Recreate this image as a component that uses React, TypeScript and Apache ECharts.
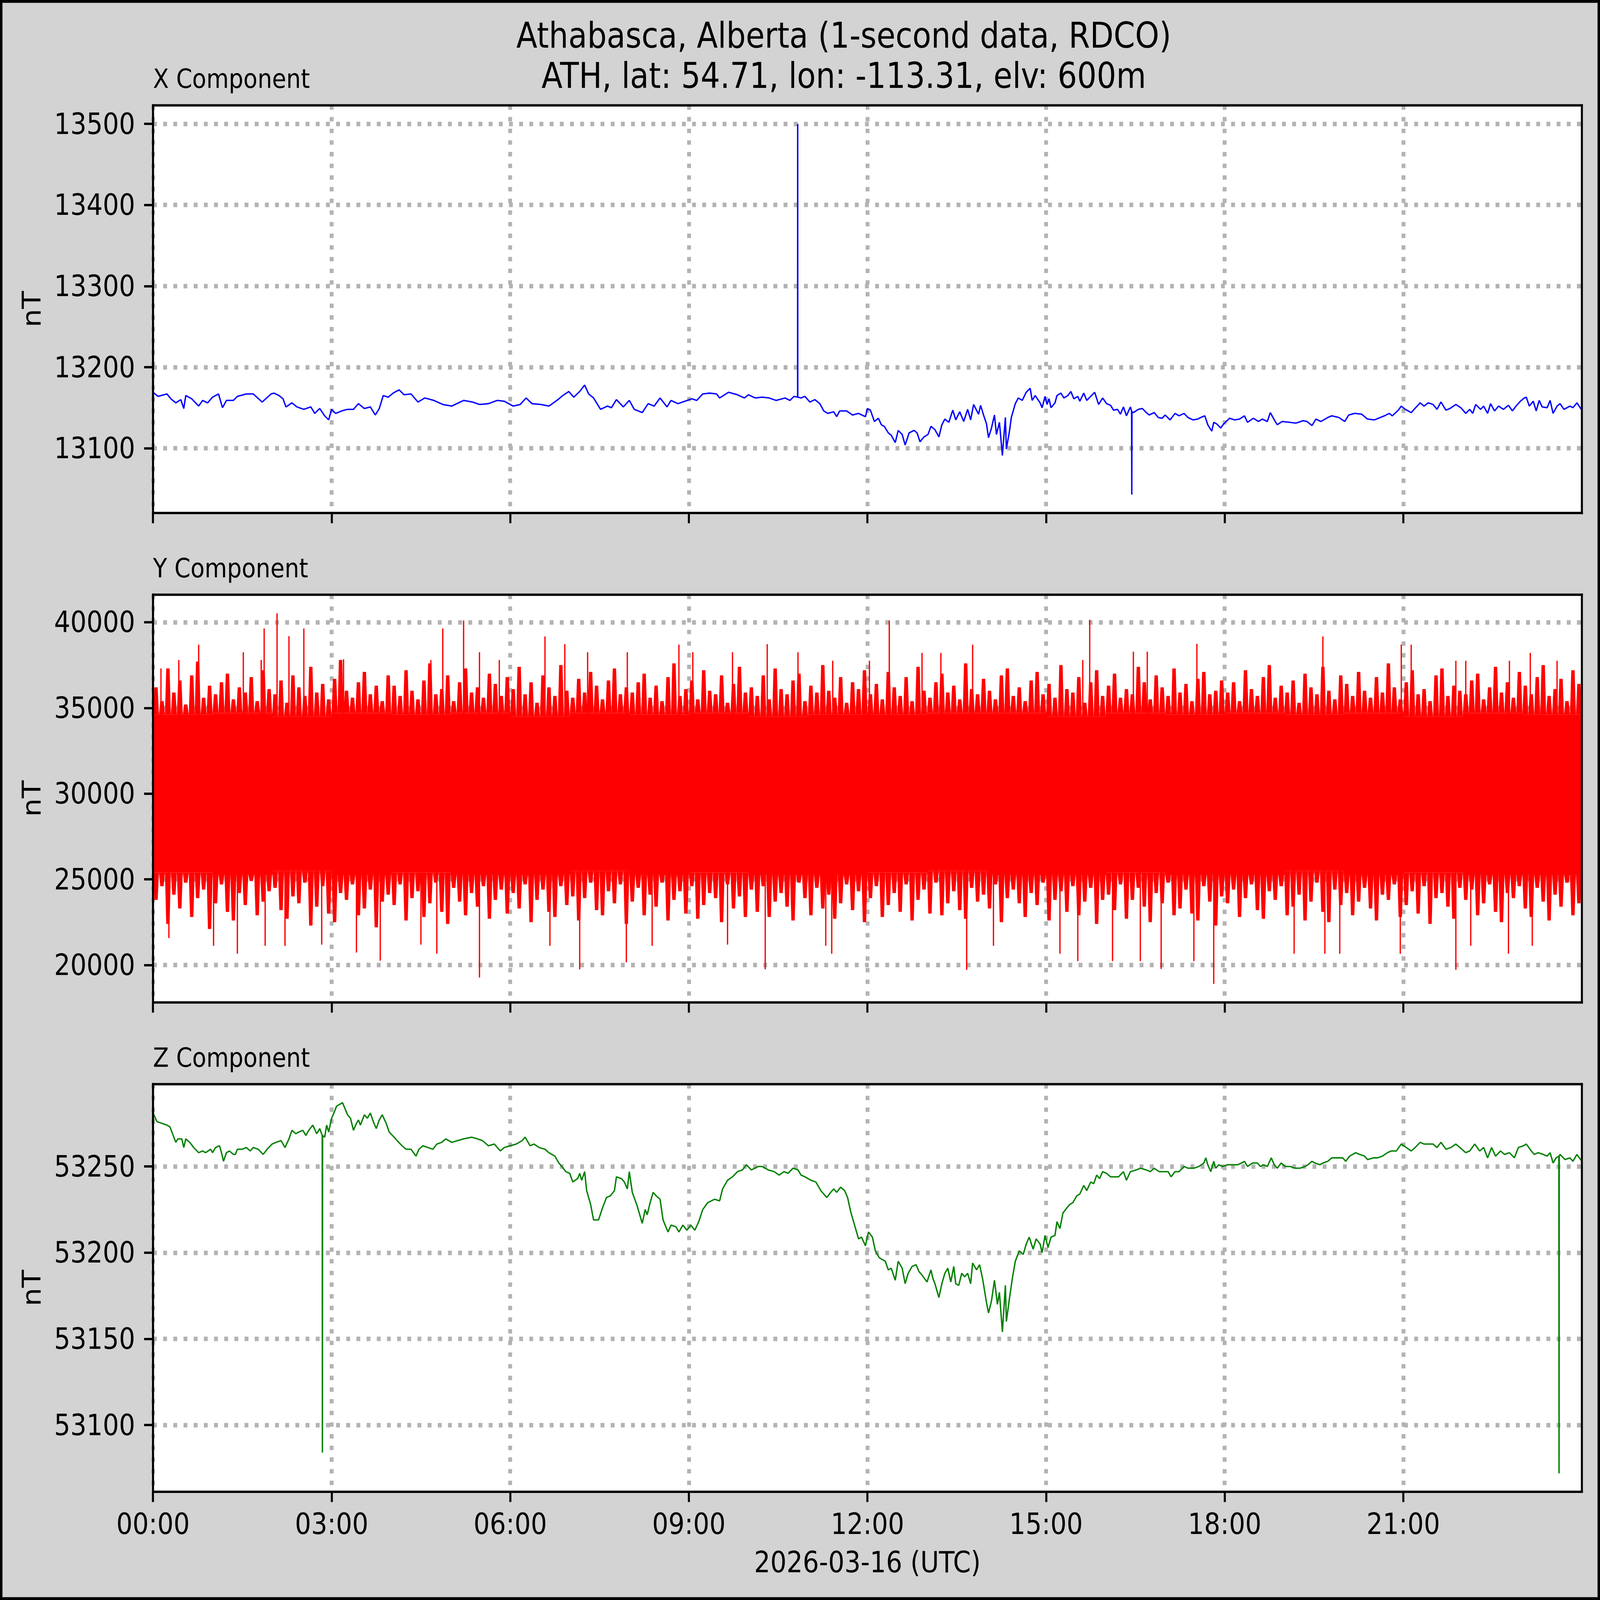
import React, { useEffect, useRef } from "react";
import * as echarts from "echarts";

// ---------- layout in reference pixels (5207 x 4541); mapped onto the actual viewport ----------
const W = 5207;
const H = 4541;
const PLOT_LEFT = 498;
const PLOT_RIGHT = 5148;
const PANEL_TOPS = [299, 1688, 3077];
const PANEL_H = 1157;
const FONT = '"DejaVu Sans", "Liberation Sans", sans-serif';
const GRID_COLOR = "#b3b3b3";

// ---------- ticks ----------
const timeTicks = [0, 180, 360, 540, 720, 900, 1080, 1260];
const timeTickLabels = ["00:00", "03:00", "06:00", "09:00", "12:00", "15:00", "18:00", "21:00"];
const xTicks = [13100, 13200, 13300, 13400, 13500];
const yTicks = [20000, 25000, 30000, 35000, 40000];
const zTicks = [53100, 53150, 53200, 53250];
const panelTitles = ["X Component", "Y Component", "Z Component"];

// ---------- data: [minute of day, nT] ----------
const xComponent = [
  [0,13169],[5,13164],[14,13167],[18,13161],[23,13156],[28,13160],[31,13149],[33,13165],[39,13161],[46,13152],
  [50,13159],[55,13156],[60,13163],[66,13167],[70,13150],[74,13159],[81,13159],[85,13164],[94,13167],[101,13167],
  [110,13157],[119,13167],[122,13168],[127,13165],[131,13161],[134,13151],[140,13156],[145,13151],[152,13148],[159,13151],
  [163,13143],[168,13149],[173,13140],[177,13135],[180,13148],[184,13143],[190,13146],[196,13148],[202,13148],[207,13155],
  [213,13149],[219,13151],[224,13141],[228,13149],[232,13165],[237,13163],[242,13168],[248,13172],[253,13166],[260,13167],
  [267,13157],[274,13162],[283,13159],[292,13154],[301,13152],[313,13159],[322,13157],[329,13154],[338,13155],[347,13159],
  [354,13158],[363,13152],[370,13154],[376,13162],[382,13155],[391,13154],[399,13152],[407,13159],[413,13165],[419,13170],
  [424,13163],[430,13170],[435,13178],[439,13167],[444,13162],[451,13148],[458,13152],[462,13150],[467,13160],[474,13151],
  [480,13159],[485,13148],[493,13144],[499,13155],[505,13152],[511,13162],[518,13151],[522,13159],[529,13155],[536,13158],
  [543,13161],[548,13159],[554,13167],[561,13168],[568,13167],[571,13162],[580,13169],[589,13166],[596,13162],[600,13166],
  [607,13162],[614,13163],[621,13162],[628,13159],[637,13162],[642,13159],[646,13164],[649.6,13163],[649.7,13500],[649.8,13163],
  [653,13162],[657,13164],[662,13157],[667,13160],[672,13155],[676,13146],[680,13143],[686,13145],[689,13139],[692,13146],
  [699,13146],[705,13141],[711,13143],[718,13139],[720,13149],[723,13147],[727,13133],[731,13137],[734,13129],[737,13127],
  [741,13119],[744,13116],[748,13107],[751,13122],[755,13117],[758,13104],[762,13119],[767,13122],[770,13119],[773,13108],
  [777,13114],[781,13117],[784,13127],[788,13123],[792,13114],[795,13129],[798,13136],[802,13132],[806,13147],[809,13135],
  [813,13145],[817,13133],[821,13148],[824,13135],[827,13154],[832,13142],[834,13153],[837,13141],[840,13130],[842,13113],
  [845,13125],[848,13141],[850,13117],[853,13132],[856,13091],[859,13138],[860,13099],[863,13120],[865,13138],[869,13155],
  [872,13162],[876,13159],[880,13169],[884,13174],[886,13159],[889,13165],[894,13156],[896,13150],[899,13164],[901,13154],
  [903,13161],[905,13150],[909,13156],[911,13165],[915,13168],[918,13162],[922,13165],[925,13170],[928,13161],[932,13164],
  [934,13158],[938,13168],[941,13159],[945,13164],[949,13169],[953,13154],[957,13162],[961,13155],[965,13153],[968,13147],
  [972,13148],[975,13142],[978,13151],[981,13140],[985,13151],[986.2,13146],[986.4,13043],[986.6,13145],[988,13144],[993,13148],
  [997,13149],[1001,13144],[1004,13141],[1009,13144],[1013,13138],[1017,13137],[1020,13141],[1025,13135],[1030,13143],[1034,13140],
  [1039,13143],[1043,13138],[1048,13135],[1053,13136],[1056,13138],[1060,13140],[1063,13129],[1067,13121],[1069,13132],[1072,13130],
  [1076,13125],[1079,13130],[1085,13137],[1090,13135],[1095,13136],[1100,13140],[1103,13132],[1109,13137],[1114,13133],[1118,13136],
  [1123,13133],[1126,13144],[1130,13135],[1133,13129],[1138,13133],[1145,13132],[1152,13131],[1159,13134],[1163,13133],[1168,13128],
  [1172,13136],[1177,13133],[1184,13138],[1188,13140],[1195,13138],[1201,13133],[1205,13141],[1211,13143],[1218,13142],[1224,13136],
  [1231,13135],[1237,13138],[1241,13140],[1246,13143],[1249,13140],[1255,13147],[1258,13152],[1262,13148],[1268,13144],[1271,13148],
  [1277,13156],[1281,13152],[1285,13156],[1290,13154],[1294,13148],[1298,13157],[1303,13147],[1307,13149],[1313,13154],[1318,13150],
  [1323,13143],[1327,13148],[1330,13143],[1333,13154],[1338,13148],[1341,13152],[1345,13143],[1348,13155],[1352,13146],[1356,13152],
  [1361,13148],[1366,13153],[1370,13146],[1373,13151],[1378,13158],[1382,13162],[1384,13163],[1387,13152],[1391,13158],[1394,13146],
  [1397,13159],[1400,13151],[1405,13150],[1408,13159],[1411,13143],[1415,13152],[1418,13155],[1422,13148],[1428,13152],[1431,13150],
  [1435,13156],[1440,13147]
];

const zComponent = [
  [0,53281],[4,53276],[9,53275],[14,53274],[17,53273],[21,53267],[23,53264],[25,53266],[29,53266],[31,53261],
  [33,53266],[37,53264],[41,53261],[46,53258],[50,53259],[53,53258],[58,53260],[60,53258],[63,53261],[67,53262],
  [69,53258],[71,53253],[74,53258],[77,53259],[81,53257],[83,53257],[85,53260],[90,53260],[94,53261],[98,53259],
  [101,53261],[106,53260],[111,53257],[115,53260],[120,53263],[124,53264],[129,53265],[133,53261],[137,53266],[140,53271],
  [144,53269],[147,53270],[151,53271],[154,53268],[157,53271],[161,53274],[165,53269],[168,53272],[170.5,53268],[170.7,53084],
  [170.9,53268],[173,53267],[175,53274],[177,53270],[180,53278],[183,53282],[185,53285],[191,53287],[196,53280],[199,53278],
  [202,53271],[205,53275],[207,53277],[209,53274],[213,53280],[216,53278],[219,53281],[222,53276],[225,53272],[228,53277],
  [231,53280],[235,53275],[238,53270],[243,53267],[246,53265],[251,53262],[255,53260],[260,53260],[265,53256],[268,53260],
  [272,53262],[277,53261],[282,53260],[286,53263],[291,53264],[295,53266],[301,53264],[307,53265],[313,53266],[321,53267],
  [327,53266],[332,53265],[338,53262],[344,53263],[350,53259],[354,53261],[360,53262],[366,53263],[372,53265],[375,53267],
  [380,53262],[384,53263],[389,53261],[395,53260],[399,53258],[405,53256],[409,53252],[412,53250],[416,53247],[420,53246],
  [423,53241],[428,53243],[430,53246],[432,53242],[435,53247],[437,53236],[441,53228],[444,53219],[449,53219],[453,53226],
  [457,53232],[461,53233],[465,53236],[467,53244],[472,53243],[475,53241],[478,53237],[480,53247],[483,53235],[488,53227],
  [493,53217],[496,53225],[498,53222],[501,53229],[504,53235],[507,53233],[511,53231],[514,53219],[519,53212],[522,53216],
  [527,53215],[530,53212],[534,53216],[538,53213],[542,53216],[546,53213],[550,53218],[554,53225],[559,53229],[566,53231],
  [571,53230],[574,53237],[579,53242],[584,53244],[589,53247],[594,53248],[598,53251],[603,53248],[610,53250],[614,53250],
  [620,53248],[626,53247],[631,53245],[636,53247],[640,53246],[645,53249],[650,53248],[653,53245],[657,53244],[663,53242],
  [668,53241],[673,53236],[679,53232],[683,53235],[686,53237],[689,53235],[693,53238],[697,53236],[700,53232],[703,53224],
  [706,53218],[711,53208],[714,53209],[718,53204],[721,53212],[725,53209],[728,53201],[732,53197],[735,53196],[738,53195],
  [741,53190],[744,53191],[748,53184],[751,53195],[755,53191],[758,53182],[761,53188],[765,53192],[769,53193],[772,53189],
  [775,53187],[780,53183],[784,53190],[786,53185],[788,53182],[792,53174],[795,53182],[798,53188],[801,53191],[804,53183],
  [807,53192],[809,53182],[812,53181],[815,53188],[818,53186],[821,53188],[824,53182],[826,53194],[830,53190],[833,53193],
  [836,53185],[840,53171],[842,53165],[845,53172],[848,53184],[851,53170],[853,53177],[856,53154],[859,53181],[860,53160],
  [863,53173],[866,53185],[869,53195],[873,53201],[877,53199],[880,53205],[883,53209],[887,53202],[890,53208],[894,53205],
  [896,53200],[899,53210],[902,53203],[905,53209],[909,53210],[911,53218],[914,53214],[917,53223],[921,53226],[924,53228],
  [927,53229],[931,53233],[934,53234],[938,53239],[941,53236],[945,53241],[948,53240],[951,53245],[954,53243],[957,53247],
  [961,53246],[965,53244],[970,53244],[973,53244],[978,53247],[981,53242],[985,53247],[991,53248],[995,53249],[1001,53248],
  [1005,53247],[1009,53249],[1014,53247],[1019,53247],[1023,53247],[1026,53244],[1030,53247],[1034,53247],[1039,53250],[1043,53249],
  [1049,53249],[1054,53250],[1059,53252],[1061,53255],[1063,53251],[1066,53247],[1069,53253],[1071,53249],[1074,53251],[1078,53250],
  [1083,53251],[1087,53251],[1093,53251],[1097,53252],[1100,53253],[1103,53250],[1108,53252],[1113,53252],[1116,53250],[1119,53251],
  [1123,53250],[1127,53255],[1130,53251],[1133,53249],[1137,53252],[1141,53250],[1146,53250],[1151,53249],[1156,53249],[1161,53250],
  [1164,53251],[1168,53253],[1171,53252],[1176,53251],[1179,53252],[1184,53253],[1188,53255],[1194,53255],[1199,53255],[1202,53253],
  [1206,53256],[1209,53257],[1212,53258],[1216,53257],[1221,53256],[1224,53254],[1230,53255],[1234,53255],[1239,53256],[1244,53258],
  [1248,53259],[1253,53259],[1258,53263],[1263,53261],[1268,53259],[1272,53261],[1277,53264],[1281,53263],[1285,53263],[1290,53263],
  [1294,53261],[1298,53264],[1303,53260],[1308,53261],[1313,53263],[1317,53261],[1323,53258],[1327,53259],[1332,53263],[1337,53259],
  [1341,53261],[1345,53255],[1349,53261],[1353,53256],[1358,53259],[1362,53257],[1367,53258],[1372,53255],[1376,53261],[1381,53262],
  [1384,53263],[1389,53259],[1392,53257],[1396,53258],[1401,53257],[1405,53256],[1408,53258],[1411,53252],[1414,53255],[1416.8,53256],
  [1417,53072],[1417.2,53256],[1418,53257],[1423,53254],[1428,53255],[1431,53253],[1435,53257],[1440,53253]
];

// Y component: dense noise. Solid core per hour, envelope peaks per 6-minute bin, isolated tall spikes.
const yCoreHi = [34600,34700,34500,34700,34600,34700,34500,34700,34600,34700,34500,34600,
                 34600,34700,34700,34500,34700,34600,34700,34600,34700,34500,34700,34600];
const yCoreLo = [25400,25300,25500,25300,25400,25300,25300,25500,25300,25400,25300,25300,
                 25400,25500,25300,25300,25400,25300,25300,25500,25300,25400,25300,25300];
const yEnvHi = [
  36200,35400,37300,35900,36600,35200,36900,37700,35600,36300,35800,36500,37000,35500,36200,35900,36800,35400,37200,36100,
  35800,36600,35300,36900,36200,35700,37400,35900,36400,35500,36700,37800,36000,35600,36500,37100,35800,36300,35400,36900,
  36300,35700,37200,36000,35500,36600,37600,35800,36100,36900,35400,36500,37300,35900,36200,35600,37000,36400,35700,36800,
  36100,37400,35800,36500,35300,36900,36200,35700,37500,36000,35600,36700,35900,37100,36300,35500,36600,37300,35800,36200,
  35900,36500,37000,35600,36300,35400,36800,37600,35700,36100,36600,35500,37200,36000,35800,36900,35300,36400,37400,35900,
  36200,35700,36900,35500,37300,36100,35800,36600,37000,35400,36300,35900,37500,36000,35600,36800,35300,36500,36100,37200,
  35800,36400,35500,37100,36200,35700,36800,35400,37400,36000,35600,36500,37000,35900,36300,35500,37600,36100,35800,36700,
  36000,35500,36900,37300,35700,36200,35400,36600,37100,35800,36400,35600,37500,36100,35900,36800,35300,36500,37200,35700,
  36300,37000,35600,36100,35800,37400,36500,35500,36900,36200,35700,37300,35900,36400,35400,36700,37100,35800,36000,36600,
  35900,36500,35400,37200,36100,35700,36800,37500,35600,36300,35900,36600,35300,37000,36200,35800,37400,36000,35500,36900,
  36400,35700,37100,36000,35600,36800,35900,37600,36200,35500,36500,37200,35800,36100,35400,36900,37300,35700,36300,36000,
  35800,36600,37000,35500,36200,37400,35900,36500,35600,37100,36300,35800,36800,37500,35700,36100,36700,35400,37200,36400
];
const yEnvLo = [
  23800,24600,22400,24100,23300,24800,22800,23900,24400,22100,23600,24700,23100,22600,24200,23500,24900,22900,23700,24300,
  24500,23200,22700,24000,23600,24800,22300,23400,24600,23000,22500,24200,23800,24700,22900,23300,24400,22200,23700,24100,
  23500,24700,22600,23900,24300,22800,23600,24800,23100,22400,24500,23700,22900,24200,23400,24600,22700,23800,24400,23000,
  24200,23300,24700,22500,23800,24400,23100,22800,24600,23500,24000,22600,23900,24800,23200,22900,24300,23600,24700,22400,
  23700,24500,22900,24100,23400,24800,22600,23800,24300,23000,24600,22700,23500,24200,23900,22500,24700,23300,24000,22800,
  24400,23100,24600,22800,23700,24200,23400,22600,24800,23900,22900,24500,23300,24100,22700,23600,24700,23200,24300,22500,
  23900,24600,22800,23500,24200,23100,24700,22600,23800,24400,23000,24800,22900,23600,24300,23200,22700,24500,23700,24100,
  23300,24700,22500,23900,24400,23600,22800,24200,23500,24800,22600,23800,24300,23100,24600,22900,23700,24500,22400,23800,
  24100,23200,24700,22700,23800,24500,23400,22500,24200,23600,24800,22900,23300,24400,23000,22600,24600,23700,22300,24000,
  23600,24400,22800,23900,24700,23200,22700,24300,23800,24600,22900,23400,24100,22600,23700,24800,23100,22500,24400,23500,
  24200,22900,23700,24500,23300,22600,24100,23800,24700,22800,23500,24300,23000,24600,22400,23900,24200,23400,22700,24500,
  23800,24400,22900,23600,24700,23100,22500,24200,23900,24600,23300,22800,24500,23700,22600,24100,23400,24800,22900,23600
];
const ySpikeUp = [
  [8,37300],[26,37800],[46,38690],[91,38250],[109,37800],[112,39630],[125,40520],[137,39180],[152,39630],[192,37840],
  [280,37800],[292,39630],[313,40100],[329,38250],[349,37800],[395,39170],[415,38720],[438,38250],[478,38250],[530,38690],
  [544,38250],[584,38250],[619,38720],[650,38250],[685,37750],[722,37750],[742,40100],[775,38210],[794,38210],[826,38690],
  [937,37800],[944,40140],[988,38280],[1002,38280],[1052,38740],[1179,39170],[1258,38690],[1268,38690],[1313,37750],[1323,37750],
  [1367,37750],[1388,38210],[1415,37750]
];
const ySpikeDown = [
  [16,21580],[61,21120],[85,20660],[113,21120],[133,21120],[170,21190],[205,20730],[229,20250],[270,21190],[286,20660],
  [329,19270],[400,21120],[430,19750],[477,20160],[503,21120],[579,21190],[617,19750],[678,21120],[684,20660],[820,19720],
  [847,21120],[914,20660],[932,20230],[967,20230],[995,20230],[1016,19770],[1049,20230],[1069,18900],[1150,20660],[1181,20660],
  [1196,20660],[1257,20660],[1313,19720],[1328,21120],[1366,20660],[1390,21120]
];
const Y_BIN_MIN = 6;

function padRange(vals: number[]): [number, number] {
  const mn = Math.min(...vals);
  const mx = Math.max(...vals);
  const m = (mx - mn) * 0.05;
  return [mn - m, mx + m];
}

export default function App() {
  const ref = useRef<HTMLDivElement>(null);
  const vw = typeof window !== "undefined" ? window.innerWidth : W;
  const vh = typeof window !== "undefined" ? window.innerHeight : H;
  const sx = Math.min(1, vw / W);
  const sy = Math.min(1, vh / H);

  useEffect(() => {
    if (!ref.current) return;
    const chart = echarts.init(ref.current, null, { renderer: "svg" });
    const kx = (v: number) => v * sx;
    const ky = (v: number) => v * sy;
    const km = (v: number) => v * Math.sqrt(sx * sy);

    const xRange = padRange(xComponent.map((d) => d[1]));
    const yAll = [
      ...yEnvHi, ...yEnvLo,
      ...ySpikeUp.map((d) => d[1]), ...ySpikeDown.map((d) => d[1]),
    ];
    const yRange = padRange(yAll);
    const zRange = padRange(zComponent.map((d) => d[1]));
    const ranges = [xRange, yRange, zRange];
    const tickSets = [xTicks, yTicks, zTicks];

    const vGrid = {
      show: true,
      lineStyle: { color: GRID_COLOR, width: kx(12.5), type: [ky(12.5), ky(20.6)], cap: "butt" as const },
    };
    const hGrid = {
      show: true,
      lineStyle: { color: GRID_COLOR, width: ky(12.5), type: [kx(12.5), kx(20.6)], cap: "butt" as const },
    };

    const grids = PANEL_TOPS.map((top) => ({
      left: kx(PLOT_LEFT),
      top: ky(top),
      width: kx(PLOT_RIGHT - PLOT_LEFT),
      height: ky(PANEL_H),
      show: true,
      backgroundColor: "#ffffff",
      borderWidth: 0,
      containLabel: false,
    }));

    const xAxes = [0, 1, 2].map((i) => ({
      type: "value" as const,
      gridIndex: i,
      min: 0,
      max: 1440,
      interval: 180,
      axisLine: { show: false },
      axisTick: { show: true, length: ky(29), lineStyle: { color: "#000", width: kx(6.7) }, customValues: timeTicks },
      axisLabel: { show: false },
      splitLine: vGrid,
    }));

    const yAxes = [0, 1, 2].map((i) => ({
      type: "value" as const,
      gridIndex: i,
      min: ranges[i][0],
      max: ranges[i][1],
      splitNumber: 5,
      axisLine: { show: false },
      axisTick: { show: true, length: kx(29), lineStyle: { color: "#000", width: ky(6.7) }, customValues: tickSets[i] },
      axisLabel: { show: false },
      splitLine: hGrid,
    }));

    const coreData = yCoreHi.map((hi, i) => [i * 60, (i + 1) * 60, yCoreLo[i], hi]);
    const upData = yEnvHi.map((hi, i) => [i * Y_BIN_MIN, (i + 1) * Y_BIN_MIN, yCoreHi[Math.floor((i * Y_BIN_MIN) / 60)], hi]);
    const downData = yEnvLo.map((lo, i) => [i * Y_BIN_MIN, (i + 1) * Y_BIN_MIN, yCoreLo[Math.floor((i * Y_BIN_MIN) / 60)], lo]);
    const spikeData = [
      ...ySpikeUp.map(([t, v]) => [t, 30000, v]),
      ...ySpikeDown.map(([t, v]) => [t, v, 30000]),
    ];

    const coreRect = (params: any, api: any) => {
      const a = api.coord([api.value(0), api.value(3)]);
      const b = api.coord([api.value(1), api.value(2)]);
      return {
        type: "rect",
        shape: { x: a[0], y: a[1], width: b[0] - a[0] + 1, height: b[1] - a[1] },
        style: { fill: "#ff0000" },
      };
    };
    // a tapered peak from the core edge (value 2) out to the bin's extreme (value 3)
    const peak = (params: any, api: any) => {
      const t0 = api.value(0);
      const t1 = api.value(1);
      const base = api.value(2);
      const tip = api.value(3);
      const p0 = api.coord([t0, base]);
      const p2 = api.coord([t1, base]);
      const pt = api.coord([(t0 + t1) / 2, tip]);
      const half = (p2[0] - p0[0]) * 0.28;
      return {
        type: "polygon",
        shape: { points: [p0, [pt[0] - half, pt[1]], [pt[0] + half, pt[1]], p2] },
        style: { fill: "#ff0000" },
      };
    };

    const series: any[] = [
      {
        type: "line",
        xAxisIndex: 0,
        yAxisIndex: 0,
        data: xComponent,
        showSymbol: false,
        symbol: "none",
        lineStyle: { color: "#0000ff", width: km(4.2) },
        silent: true,
        z: 3,
      },
      { type: "custom", xAxisIndex: 1, yAxisIndex: 1, data: coreData, clip: true, silent: true, z: 3, renderItem: coreRect },
      { type: "custom", xAxisIndex: 1, yAxisIndex: 1, data: upData, clip: true, silent: true, z: 3, renderItem: peak },
      { type: "custom", xAxisIndex: 1, yAxisIndex: 1, data: downData, clip: true, silent: true, z: 3, renderItem: peak },
      {
        type: "custom",
        xAxisIndex: 1,
        yAxisIndex: 1,
        data: spikeData,
        clip: true,
        silent: true,
        z: 3,
        renderItem: (params: any, api: any) => {
          const p1 = api.coord([api.value(0), api.value(1)]);
          const p2 = api.coord([api.value(0), api.value(2)]);
          return {
            type: "line",
            shape: { x1: p1[0], y1: p1[1], x2: p2[0], y2: p2[1] },
            style: { stroke: "#ff0000", lineWidth: kx(4.2) },
          };
        },
      },
      {
        type: "line",
        xAxisIndex: 2,
        yAxisIndex: 2,
        data: zComponent,
        showSymbol: false,
        symbol: "none",
        lineStyle: { color: "#008000", width: km(4.2) },
        silent: true,
        z: 3,
      },
    ];

    chart.setOption({
      animation: false,
      backgroundColor: "#d3d3d3",
      textStyle: { fontFamily: FONT },
      grid: grids,
      xAxis: xAxes,
      yAxis: yAxes,
      series,
    });

    // text helpers: horizontal text scaled to the viewport's aspect
    const hText = (text: string, x: number, y: number, size: number, align: string) => ({
      type: "text",
      z: 100,
      x,
      y,
      scaleX: sx / sy,
      scaleY: 1,
      style: { text, fontSize: size * sy, fontFamily: FONT, fill: "#000", align, verticalAlign: "middle" },
    });
    const vText = (text: string, x: number, y: number, size: number) => ({
      type: "text",
      z: 100,
      x,
      y,
      rotation: Math.PI / 2,
      scaleX: sy / sx,
      scaleY: 1,
      style: { text, fontSize: size * sx, fontFamily: FONT, fill: "#000", align: "center", verticalAlign: "middle" },
    });
    const frame = (x0: number, y0: number, x1: number, y1: number, tx: number, ty: number) => [
      { type: "rect", z: 100, shape: { x: x0 - tx / 2, y: y0 - ty / 2, width: x1 - x0 + tx, height: ty }, style: { fill: "#000" } },
      { type: "rect", z: 100, shape: { x: x0 - tx / 2, y: y1 - ty / 2, width: x1 - x0 + tx, height: ty }, style: { fill: "#000" } },
      { type: "rect", z: 100, shape: { x: x0 - tx / 2, y: y0 - ty / 2, width: tx, height: y1 - y0 + ty }, style: { fill: "#000" } },
      { type: "rect", z: 100, shape: { x: x1 - tx / 2, y: y0 - ty / 2, width: tx, height: y1 - y0 + ty }, style: { fill: "#000" } },
    ];

    const graphic: any[] = [
      ...frame(kx(4), ky(4), kx(W - 4), ky(H - 4), kx(8), ky(8)),
      ...PANEL_TOPS.flatMap((top) =>
        frame(kx(PLOT_LEFT), ky(top), kx(PLOT_RIGHT), ky(top + PANEL_H), kx(6.7), ky(6.7))
      ),
      hText("Athabasca, Alberta (1-second data, RDCO)", kx(2746), ky(100), 100, "center"),
      hText("ATH, lat: 54.71, lon: -113.31, elv: 600m", kx(2746), ky(215), 100, "center"),
      ...panelTitles.map((t, i) => hText(t, kx(PLOT_LEFT), ky(PANEL_TOPS[i] - 75), 75, "left")),
      ...PANEL_TOPS.map((top) => vText("nT", kx(104), ky(top + PANEL_H / 2), 83)),
      hText("2026-03-16 (UTC)", kx((PLOT_LEFT + PLOT_RIGHT) / 2), ky(4434), 83, "center"),
    ];

    // tick labels placed through the axes' own scales
    tickSets.forEach((ticks, i) => {
      ticks.forEach((v) => {
        const py = chart.convertToPixel({ yAxisIndex: i } as any, v) as unknown as number;
        graphic.push(hText(String(v), kx(440), py, 83, "right"));
      });
    });
    timeTicks.forEach((m, j) => {
      const px = chart.convertToPixel({ xAxisIndex: 2 } as any, m) as unknown as number;
      graphic.push(hText(timeTickLabels[j], px, ky(4325), 83, "center"));
    });

    chart.setOption({ graphic });

    return () => chart.dispose();
  }, [sx, sy]);

  return (
    <div
      ref={ref}
      style={{ position: "absolute", left: 0, top: 0, width: W * sx, height: H * sy }}
    />
  );
}
